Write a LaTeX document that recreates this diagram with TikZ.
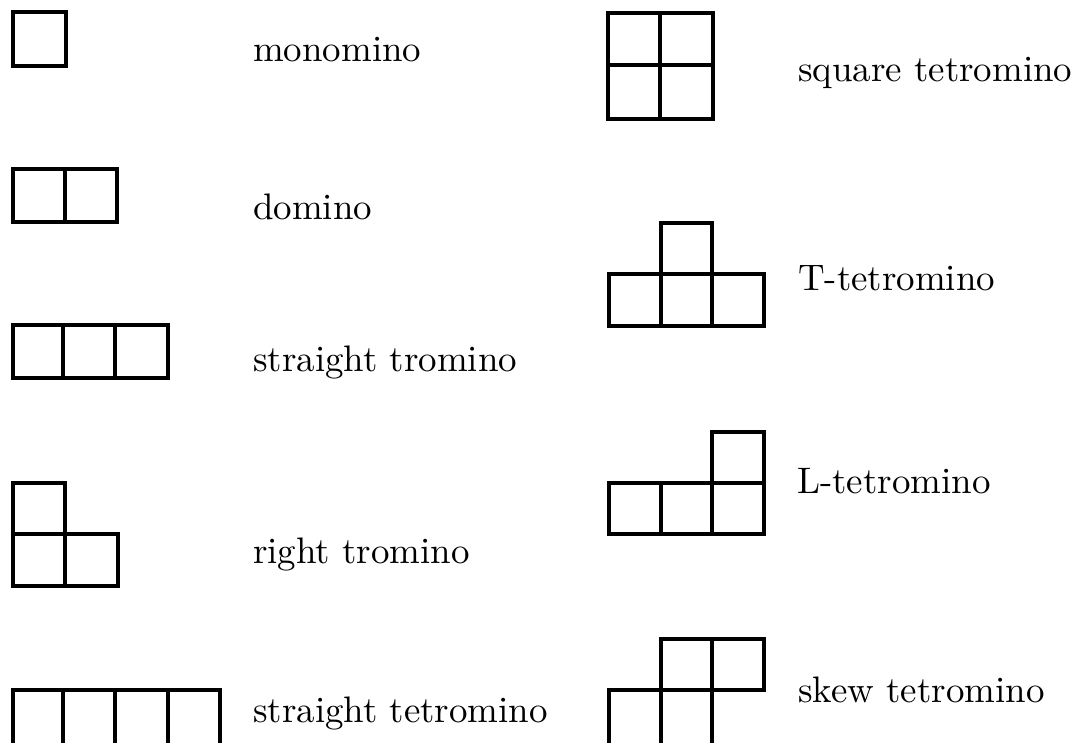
\documentclass[tikz,border=0pt]{standalone}
\usepackage{graphicx}
\newcommand{\bigtxt}[1]{\scalebox{3.69}{\fontsize{10}{12}\selectfont #1}}
\begin{document}
\begin{tikzpicture}[x=1pt,y=-1pt,
  cell/.style={draw=black,line width=4pt,line join=miter},
  lbl/.style={anchor=base west,inner sep=0pt}]
\useasboundingbox (0,0) rectangle (1078,742);
\clip (0,0) rectangle (1078,742);
% monomino
\draw[cell] (13,12) rectangle (66,66);
% domino
\draw[cell] (13,169) rectangle (65,222);
\draw[cell] (65,169) rectangle (117,222);
% straight tromino
\draw[cell] (13,325) rectangle (63,378);
\draw[cell] (63,325) rectangle (115,378);
\draw[cell] (115,325) rectangle (168,378);
% right tromino
\draw[cell] (13,483) rectangle (65,534);
\draw[cell] (13,534) rectangle (65,586);
\draw[cell] (65,534) rectangle (118,586);
% straight tetromino
\draw[cell] (13,690) rectangle (63,746);
\draw[cell] (63,690) rectangle (115,746);
\draw[cell] (115,690) rectangle (168,746);
\draw[cell] (168,690) rectangle (220,746);
% square tetromino
\draw[cell] (608,13) rectangle (660,65);
\draw[cell] (660,13) rectangle (713,65);
\draw[cell] (608,65) rectangle (660,119);
\draw[cell] (660,65) rectangle (713,119);
% T-tetromino
\draw[cell] (661,223) rectangle (712,274);
\draw[cell] (609,274) rectangle (661,326);
\draw[cell] (661,274) rectangle (712,326);
\draw[cell] (712,274) rectangle (764,326);
% L-tetromino
\draw[cell] (712,432) rectangle (764,483);
\draw[cell] (609,483) rectangle (661,534);
\draw[cell] (661,483) rectangle (712,534);
\draw[cell] (712,483) rectangle (764,534);
% skew tetromino
\draw[cell] (661,639) rectangle (712,690);
\draw[cell] (712,639) rectangle (764,690);
\draw[cell] (609,690) rectangle (661,746);
\draw[cell] (661,690) rectangle (712,746);
% labels
\node[lbl] (l1) at (253,61) {\bigtxt{monomino}};
\node[lbl] (l2) at (253,219) {\bigtxt{domino}};
\node[lbl] (l3) at (253,371) {\bigtxt{straight tromino}};
\node[lbl] (l4) at (253,563) {\bigtxt{right tromino}};
\node[lbl] (l5) at (253,722) {\bigtxt{straight tetromino}};
\node[lbl] (l6) at (798,81) {\bigtxt{square tetromino}};
\node[lbl] (l7) at (798,290) {\bigtxt{T-tetromino}};
\node[lbl] (l8) at (797,493) {\bigtxt{L-tetromino}};
\node[lbl] (l9) at (798,702) {\bigtxt{skew tetromino}};
\end{tikzpicture}
\end{document}
